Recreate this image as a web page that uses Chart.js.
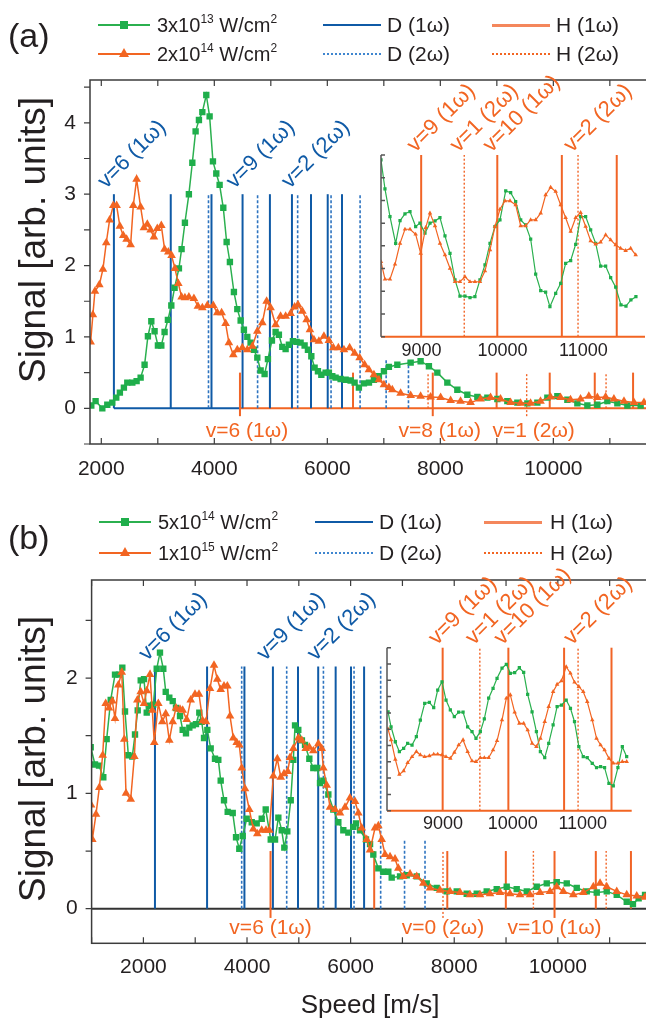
<!DOCTYPE html>
<html>
<head>
<meta charset="utf-8">
<script src="https://cdn.jsdelivr.net/npm/chart.js@4.4.0/dist/chart.umd.min.js"></script>
<style>
  html, body { margin: 0; padding: 0; background: #fff; overflow: hidden; width: 646px; height: 1020px; }
  body { position: relative; font-family: "Liberation Sans", Arial, sans-serif; color: #231f20; }
  canvas { position: absolute; left: 0; top: 0; }
  .t { position: absolute; font-size: 21px; line-height: 21px; white-space: nowrap; }
  .s { font-size: 20px; }
  .t sup { font-size: 12px; vertical-align: 0; position: relative; top: -9px; }
  .big { font-size: 34px; line-height: 34px; }
  .sw { position: absolute; height: 0; }
  .sq { position: absolute; left: 22px; top: -5px; width: 8px; height: 8px; background: #1fae4b; }
  .tri { position: absolute; left: 21px; top: -7px; width: 0; height: 0; border-left: 5px solid transparent; border-right: 5px solid transparent; border-bottom: 9px solid #f26522; }
</style>
</head>
<body>
<canvas id="mainA" width="700" height="1020"></canvas>
<canvas id="insetA" width="700" height="1020"></canvas>
<canvas id="mainB" width="700" height="1020"></canvas>
<canvas id="insetB" width="700" height="1020"></canvas>

<!-- legend (a) -->
<div class="t big" style="left:8px;top:18px">(a)</div>
<div class="sw" style="left:98px;top:24px;width:52px;border-top:2px solid #2bb04f"><i class="sq"></i></div>
<div class="t s" style="left:157px;top:15px">3x10<sup>13</sup> W/cm<sup>2</sup></div>
<div class="sw" style="left:98px;top:53px;width:52px;border-top:2px solid #f26522"><i class="tri"></i></div>
<div class="t s" style="left:157px;top:44px">2x10<sup>14</sup> W/cm<sup>2</sup></div>
<div class="sw" style="left:323px;top:24px;width:58px;border-top:2px solid #0f5aa6"></div>
<div class="t" style="left:387px;top:14px">D (1ω)</div>
<div class="sw" style="left:323px;top:53px;width:58px;border-top:2px dotted #3f86d0"></div>
<div class="t" style="left:387px;top:43px">D (2ω)</div>
<div class="sw" style="left:492px;top:24px;width:58px;border-top:3px solid #f4875c"></div>
<div class="t" style="left:556px;top:14px">H (1ω)</div>
<div class="sw" style="left:492px;top:53px;width:58px;border-top:2px dotted #f26522"></div>
<div class="t" style="left:556px;top:43px">H (2ω)</div>

<!-- legend (b) -->
<div class="t big" style="left:8px;top:520px">(b)</div>
<div class="sw" style="left:99px;top:521px;width:52px;border-top:2px solid #2bb04f"><i class="sq"></i></div>
<div class="t s" style="left:158px;top:512px">5x10<sup>14</sup> W/cm<sup>2</sup></div>
<div class="sw" style="left:99px;top:552px;width:52px;border-top:2px solid #f26522"><i class="tri"></i></div>
<div class="t s" style="left:158px;top:543px">1x10<sup>15</sup> W/cm<sup>2</sup></div>
<div class="sw" style="left:315px;top:521px;width:58px;border-top:2px solid #0f5aa6"></div>
<div class="t" style="left:379px;top:511px">D (1ω)</div>
<div class="sw" style="left:315px;top:552px;width:58px;border-top:2px dotted #3f86d0"></div>
<div class="t" style="left:379px;top:542px">D (2ω)</div>
<div class="sw" style="left:484px;top:521px;width:58px;border-top:3px solid #f4875c"></div>
<div class="t" style="left:550px;top:511px">H (1ω)</div>
<div class="sw" style="left:484px;top:552px;width:58px;border-top:2px dotted #f26522"></div>
<div class="t" style="left:550px;top:542px">H (2ω)</div>

<script>
// ---- panel (a) main data: speed [m/s] and signal [arb. units]
const aGreenSpeed = [1823,1899,2018,2106,2195,2265,2329,2400,2460,2549,2625,2696,2766,2825,2885,2943,3002,3062,3120,3179,3239,3297,3374,3421,3480,3550,3611,3669,3728,3788,3858,3917,3976,4035,4094,4159,4218,4276,4347,4407,4466,4524,4584,4642,4701,4761,4820,4890,4949,5020,5085,5143,5203,5262,5320,5391,5457,5527,5598,5657,5717,5775,5834,5894,5970,6028,6088,6147,6235,6324,6412,6483,6559,6648,6737,6825,6913,7002,7090,7239,7475,7651,7798,7947,8124,8301,8478,8655,8832,9009,9186,9363,9540,9717,9894,10071,10248,10425,10602,10779,10956,11133,11310,11545];
const aGreenSignal = [0.04,0.10,0.00,0.05,0.08,0.15,0.22,0.29,0.36,0.36,0.38,0.43,0.61,1.01,1.22,1.08,0.88,0.88,1.07,1.24,1.44,1.69,1.96,2.23,2.60,3.00,3.44,3.88,4.04,4.15,4.39,4.09,3.46,3.29,3.13,2.81,2.33,2.05,1.63,1.39,1.23,1.10,1.00,0.92,0.82,0.71,0.53,0.48,0.69,0.95,1.07,1.03,0.86,0.83,0.89,0.94,0.93,0.92,0.88,0.82,0.73,0.57,0.52,0.47,0.50,0.50,0.45,0.43,0.41,0.40,0.39,0.36,0.29,0.35,0.36,0.40,0.45,0.52,0.58,0.61,0.64,0.66,0.59,0.50,0.36,0.26,0.19,0.16,0.15,0.13,0.10,0.08,0.07,0.08,0.15,0.17,0.12,0.07,0.04,0.05,0.10,0.07,0.04,0.04];
const aOrangeSpeed = [1811,1851,1887,1965,2029,2088,2147,2212,2271,2329,2389,2448,2519,2566,2625,2696,2754,2814,2873,2931,2991,3062,3120,3186,3244,3303,3363,3421,3480,3550,3639,3710,3788,3876,3982,4053,4129,4200,4258,4336,4407,4496,4584,4673,4761,4850,4926,4996,5085,5173,5262,5350,5421,5480,5558,5634,5692,5763,5851,5940,6028,6106,6195,6294,6395,6483,6572,6660,6736,6825,6913,7002,7090,7150,7297,7475,7651,7828,8005,8182,8358,8535,8712,8889,9066,9243,9420,9597,9773,9950,10127,10304,10481,10628,10779,10925,11072,11250,11427,11604];
const aOrangeSignal = [0.93,1.31,1.64,1.73,1.95,2.32,2.64,2.84,2.84,2.55,2.42,2.37,2.29,2.84,3.21,2.82,2.53,2.58,2.50,2.40,2.52,2.56,2.23,2.19,2.14,1.96,1.75,1.56,1.55,1.56,1.54,1.43,1.41,1.44,1.44,1.34,1.34,1.19,0.92,0.75,0.82,0.85,0.82,0.87,1.08,1.20,1.50,1.41,1.17,1.29,1.29,1.33,1.42,1.45,1.36,1.24,1.10,0.96,0.94,1.01,0.95,0.85,0.85,0.82,0.85,0.77,0.71,0.61,0.54,0.47,0.40,0.33,0.29,0.26,0.21,0.18,0.17,0.16,0.15,0.11,0.10,0.08,0.13,0.15,0.13,0.08,0.07,0.07,0.10,0.16,0.15,0.12,0.13,0.17,0.15,0.16,0.13,0.10,0.08,0.08];

// ---- panel (a) inset data (inset units)
const aInGreenSpeed = [8500,8549,8611,8681,8735,8796,8858,8928,8981,9043,9105,9167,9228,9290,9352,9414,9475,9537,9599,9660,9722,9784,9846,9907,9969,10040,10101,10163,10225,10286,10348,10410,10472,10533,10586,10657,10719,10780,10842,10904,10965,11027,11089,11151,11212,11274,11336,11398,11463,11525,11586,11648];
const aInGreenSignal = [7.78,6.51,5.29,4.11,5.11,5.41,5.51,4.85,5.00,4.56,5.00,5.10,5.24,4.44,3.67,2.50,1.79,1.79,1.72,1.76,2.50,3.16,4.11,4.85,5.14,6.42,6.34,5.95,5.14,4.92,4.30,2.76,2.03,1.96,1.32,1.91,2.35,3.23,3.35,4.07,5.29,5.29,4.70,4.11,3.11,3.11,2.60,2.18,1.40,1.35,1.62,1.76];
const aInOrangeSpeed = [8500,8549,8611,8673,8735,8796,8858,8928,8990,9052,9105,9167,9228,9290,9352,9414,9475,9537,9599,9660,9722,9784,9846,9907,9969,10031,10093,10163,10225,10286,10348,10410,10472,10533,10595,10657,10719,10780,10842,10904,10965,11027,11089,11151,11212,11274,11336,11398,11459,11521,11583,11645];
const aInOrangeSignal = [3.30,2.53,2.53,3.19,4.11,4.73,4.73,4.51,3.67,4.80,5.44,4.88,4.11,3.60,3.01,2.42,2.42,2.64,2.42,2.42,2.42,2.89,3.82,4.85,5.61,5.98,5.98,5.80,4.88,4.88,5.14,5.14,5.44,6.24,6.58,6.39,5.80,5.24,4.63,5.24,5.46,4.85,4.22,4.07,4.16,4.48,4.26,4.04,3.89,3.79,3.89,3.60];

// ---- panel (b) main data
const bGreenSpeed = [983,1066,1143,1226,1291,1369,1452,1529,1593,1645,1709,1786,1838,1890,1948,2012,2064,2127,2191,2257,2320,2384,2431,2500,2566,2629,2707,2758,2822,2886,2952,3015,3079,3125,3170,3234,3299,3382,3446,3492,3556,3627,3724,3788,3851,3917,3994,4091,4187,4284,4361,4458,4541,4605,4670,4720,4778,4844,4894,4927,4990,5060,5120,5203,5280,5357,5409,5473,5570,5666,5763,5859,5956,6052,6104,6181,6297,6375,6438,6535,6631,6728,6793,6954,7083,7276,7469,7662,7855,8048,8241,8434,8627,8820,9013,9206,9400,9593,9786,9979,10172,10365,10558,10751,10944,11137,11330,11450,11560,11683];
const bGreenSignal = [1.40,1.25,1.24,1.14,1.47,1.81,2.03,2.03,2.09,1.71,1.33,1.32,1.51,1.72,1.98,1.99,1.70,1.76,1.77,2.08,2.22,2.08,1.88,1.83,1.80,1.74,1.67,1.55,1.52,1.57,1.59,1.60,1.70,1.62,1.48,1.55,1.39,1.30,1.29,1.11,0.94,0.84,0.83,0.62,0.52,0.63,0.78,0.75,0.74,0.78,0.86,0.60,0.60,0.79,0.68,0.53,0.67,0.94,1.29,1.59,1.55,1.46,1.42,1.30,1.22,1.22,1.09,1.11,0.99,0.86,0.75,0.68,0.66,0.71,0.74,0.68,0.60,0.56,0.47,0.35,0.32,0.32,0.27,0.28,0.29,0.28,0.22,0.18,0.15,0.15,0.13,0.13,0.15,0.17,0.19,0.17,0.15,0.19,0.22,0.23,0.22,0.18,0.15,0.14,0.15,0.12,0.06,0.04,0.09,0.12];
const bOrangeSpeed = [990,1014,1085,1149,1214,1272,1336,1400,1452,1516,1582,1631,1664,1755,1825,1883,1948,2012,2064,2127,2172,2210,2288,2365,2431,2500,2566,2629,2707,2758,2836,2913,2996,3073,3145,3208,3286,3363,3427,3492,3556,3620,3672,3736,3801,3851,3898,3961,4044,4122,4199,4284,4367,4431,4508,4585,4651,4714,4786,4830,4894,4990,5056,5133,5203,5280,5377,5442,5473,5538,5602,5698,5795,5892,5988,6085,6149,6214,6311,6375,6471,6535,6600,6664,6761,6857,6921,7017,7147,7276,7404,7533,7726,7919,8112,8305,8498,8691,8884,9077,9270,9463,9656,9849,9978,10106,10299,10492,10685,10815,10944,11137,11330,11523,11683];
const bOrangeSignal = [0.90,0.60,0.82,1.05,1.33,1.78,1.74,1.80,1.65,1.94,2.05,1.47,1.00,0.95,1.32,1.81,1.88,1.78,1.89,2.03,1.72,1.44,1.78,1.62,1.69,1.46,1.62,1.74,1.73,1.72,1.64,1.81,1.86,1.86,1.63,1.62,1.91,2.11,1.99,1.90,1.93,1.93,1.67,1.48,1.44,1.42,1.22,1.04,0.86,0.69,0.65,0.68,0.68,0.68,1.15,1.30,1.14,1.17,1.19,1.31,1.39,1.48,1.46,1.39,1.40,1.37,1.43,1.39,1.22,1.07,0.88,0.86,0.83,0.88,0.96,0.93,0.83,0.70,0.60,0.51,0.70,0.72,0.60,0.47,0.45,0.43,0.35,0.28,0.30,0.28,0.22,0.18,0.16,0.15,0.14,0.12,0.12,0.13,0.14,0.13,0.12,0.12,0.14,0.15,0.19,0.15,0.12,0.14,0.19,0.22,0.19,0.15,0.12,0.11,0.10];

// ---- panel (b) inset data (inset units)
const bInSpeed = [8215,8258,8319,8377,8438,8495,8558,8620,8677,8739,8806,8868,8925,8987,9044,9106,9163,9225,9288,9353,9416,9473,9535,9592,9654,9717,9774,9845,9907,9964,10026,10093,10155,10212,10275,10337,10394,10456,10513,10576,10633,10695,10763,10824,10882,10944,11007,11064,11136,11197,11255,11312,11374,11437,11503,11566,11628];
const bInGreenSignal = [6.07,5.15,4.23,3.62,3.83,4.13,4.03,4.54,5.56,6.59,6.65,6.32,7.40,7.91,6.79,6.18,5.77,6.04,6.04,5.15,4.85,4.44,4.85,5.63,6.90,7.51,8.12,8.74,8.98,8.43,8.47,8.77,8.49,7.14,6.07,4.85,3.62,3.25,4.13,5.26,6.38,6.48,6.79,6.28,5.46,3.93,3.31,3.25,2.91,2.64,2.70,2.64,1.68,1.52,2.64,3.93,3.31];
const bInOrangeSignal = [5.01,4.34,3.15,2.23,2.44,2.94,3.31,3.62,3.42,3.31,3.36,3.46,3.46,3.42,3.31,3.21,3.58,4.03,4.34,3.62,3.05,3.01,3.25,3.25,3.25,3.72,4.29,5.56,6.90,7.10,6.04,5.36,5.36,4.95,4.13,3.93,4.44,5.46,6.38,7.30,7.75,7.96,8.83,8.43,7.88,7.61,7.30,6.69,5.56,4.44,4.03,3.72,3.21,2.91,2.91,3.01,3.01];

// ---- reference speeds for vibrational levels [m/s]
const dLines1w = [2223, 3229, 3950, 4500, 4984, 5374, 5711, 6007, 6260];
const dLines2w = [3897, 4766, 5475, 6066, 6580, 7041, 7436];
const aD2wTop = [3.0, 3.0, 3.0, 3.0, 3.0, 0.68, 0.68];
const bD2wTop = [2.1, 2.1, 2.1, 2.1, 2.1, 0.6, 0.6];
const hLines1w = [4454, 6455, 7866, 8996, 9936, 10733, 11411];
const hLines2w = [7783, 9528, 10933];

// ---- labels
const aBlueLabels = [['v=6 (1ω)', 2223], ['v=9 (1ω)', 4500], ['v=2 (2ω)', 5475]];
const bBlueLabels = [['v=6 (1ω)', 2223], ['v=9 (1ω)', 4500], ['v=2 (2ω)', 5475]];
const insetLabels = [['v=9 (1ω)', 8996], ['v=1 (2ω)', 9528], ['v=10 (1ω)', 9936], ['v=2 (2ω)', 10933]];
const aLowLabels = [['v=6 (1ω)', 4454], ['v=8 (1ω)', 7866], ['v=1 (2ω)', 9528]];
const bLowLabels = [['v=6 (1ω)', 4454], ['v=0 (2ω)', 7783], ['v=10 (1ω)', 9936]];

const GREEN = '#1fae4b', GREEN_LINE = '#2bb04f', ORANGE = '#f26522';
const BLUE = '#0f5aa6', BLUE_DOT = '#2e74c0', H_COL = '#f16426', AXIS = '#3c3c3c', INK = '#231f20';
const FONT = '"Liberation Sans", Arial, sans-serif';
const W = 700, H = 1020;

Chart.defaults.font.family = FONT;
Chart.defaults.color = INK;

function series(xs, ys, color, lineColor, style, r, bw) {
  return {
    data: xs.map((x, i) => ({ x, y: ys[i] })),
    borderColor: lineColor, backgroundColor: color,
    pointBackgroundColor: color, pointBorderWidth: 0,
    borderWidth: bw, pointStyle: style, pointRadius: r, tension: 0
  };
}

function vline(ctx, x, y, s, from, to, color, width, dash) {
  const px = x.getPixelForValue(s);
  ctx.beginPath();
  ctx.strokeStyle = color; ctx.lineWidth = width; ctx.setLineDash(dash);
  ctx.moveTo(px, y.getPixelForValue(from));
  ctx.lineTo(px, y.getPixelForValue(to));
  ctx.stroke();
}

function rotText(ctx, text, px, py, color, angle, size, align) {
  ctx.save();
  ctx.translate(px, py);
  ctx.rotate(angle);
  ctx.fillStyle = color;
  ctx.font = size + 'px ' + FONT;
  ctx.textAlign = align; ctx.textBaseline = align === 'center' ? 'middle' : 'alphabetic';
  ctx.fillText(text, 0, 0);
  ctx.restore();
}

// tick labels along the x scale, placed through the chart's own scale
function xLabels(ctx, x, ca, step, size, dy) {
  ctx.fillStyle = INK; ctx.font = size + 'px ' + FONT;
  ctx.textAlign = 'center'; ctx.textBaseline = 'middle';
  for (let k = Math.ceil(x.min / step); k * step <= x.max; k++) {
    ctx.fillText(String(k * step), x.getPixelForValue(k * step), ca.bottom + dy);
  }
}

function mainPlugin(p) {
  return {
    id: 'main' + p.name,
    beforeDatasetsDraw(chart) {
      const { ctx, scales: { x, y } } = chart;
      ctx.save();
      const lowSet = p.low.map(l => l[1]);
      p.base.forEach(b => {
        ctx.beginPath(); ctx.setLineDash([]); ctx.lineWidth = 2; ctx.strokeStyle = b[2];
        ctx.moveTo(x.getPixelForValue(b[0]), y.getPixelForValue(0));
        ctx.lineTo(x.getPixelForValue(b[1]), y.getPixelForValue(0));
        ctx.stroke();
      });
      dLines1w.forEach(s => vline(ctx, x, y, s, 0, p.dTop, BLUE, 2, []));
      dLines2w.forEach((s, i) => vline(ctx, x, y, s, 0, p.d2Top[i], BLUE_DOT, 1.6, [3, 2]));
      hLines1w.forEach(s => vline(ctx, x, y, s, lowSet.includes(s) ? p.lowTip : 0, 0.5, H_COL, 2, []));
      hLines2w.forEach(s => vline(ctx, x, y, s, lowSet.includes(s) ? p.lowTip : 0, 0.5, H_COL, 1.4, [2, 2]));
      ctx.restore();
    },
    afterDraw(chart) {
      const { ctx, chartArea: ca, scales: { x, y } } = chart;
      ctx.save();
      ctx.setLineDash([]);
      ctx.strokeStyle = AXIS; ctx.lineWidth = 1.5;
      ctx.strokeRect(ca.left, ca.top, ca.right - ca.left, ca.bottom - ca.top);
      ctx.beginPath(); ctx.lineWidth = 1.2;
      for (let k = Math.ceil(x.min / 1000); k * 1000 <= x.max; k++) {
        const px = x.getPixelForValue(k * 1000);
        ctx.moveTo(px, ca.bottom); ctx.lineTo(px, ca.bottom - 6);
        ctx.moveTo(px, ca.top); ctx.lineTo(px, ca.top + 6);
      }
      for (let k = Math.ceil(y.min * 2); k / 2 <= y.max; k++) {
        const py = y.getPixelForValue(k / 2);
        ctx.moveTo(ca.left, py); ctx.lineTo(ca.left - 6, py);
      }
      ctx.stroke();
      xLabels(ctx, x, ca, 2000, 21, p.labDy);
      rotText(ctx, 'Signal [arb. units]', 35, p.titleY, INK, -Math.PI / 2, 37, 'center');
      p.blue.forEach(l => rotText(ctx, l[0], x.getPixelForValue(l[1]) - 8, y.getPixelForValue(p.dTop) - 5, BLUE, -Math.PI / 4, 22, 'left'));
      ctx.fillStyle = ORANGE; ctx.font = '21px ' + FONT;
      ctx.textAlign = 'center'; ctx.textBaseline = 'middle';
      p.low.forEach(l => ctx.fillText(l[0], x.getPixelForValue(l[1]) + p.lowDx, y.getPixelForValue(0) + p.lowDy));
      ctx.restore();
    }
  };
}

function insetPlugin(name, labDy) {
  return {
    id: 'inset' + name,
    beforeDatasetsDraw(chart) {
      const { ctx, scales: { x, y } } = chart;
      ctx.save();
      hLines1w.filter(s => s > x.min).forEach(s => vline(ctx, x, y, s, y.min, y.max, H_COL, 2, []));
      hLines2w.filter(s => s > x.min).forEach(s => vline(ctx, x, y, s, y.min, y.max, H_COL, 1.4, [2, 2]));
      ctx.restore();
    },
    afterDraw(chart) {
      const { ctx, chartArea: ca, scales: { x, y } } = chart;
      ctx.save();
      ctx.setLineDash([]);
      ctx.beginPath(); ctx.strokeStyle = ORANGE; ctx.lineWidth = 2;
      ctx.moveTo(ca.left, ca.bottom); ctx.lineTo(ca.right, ca.bottom); ctx.stroke();
      ctx.beginPath(); ctx.strokeStyle = '#555'; ctx.lineWidth = 1.5;
      ctx.moveTo(ca.left, ca.bottom); ctx.lineTo(ca.left, ca.top);
      for (let k = Math.ceil(y.min); k <= y.max; k++) {
        const py = y.getPixelForValue(k);
        ctx.moveTo(ca.left, py); ctx.lineTo(ca.left + 4, py);
      }
      ctx.stroke();
      xLabels(ctx, x, ca, 1000, 18, labDy);
      insetLabels.forEach(l => rotText(ctx, l[0], x.getPixelForValue(l[1]) - 6, ca.top - 2, ORANGE, -Math.PI / 4, 22, 'left'));
      ctx.restore();
    }
  };
}

function baseOptions(cfg, xtitle) {
  return {
    responsive: false, animation: false, devicePixelRatio: 1,
    layout: { padding: { top: cfg.top, right: W - cfg.right, left: 0, bottom: 0 } },
    plugins: { legend: { display: false }, tooltip: { enabled: false } },
    scales: {
      x: {
        type: 'linear', min: cfg.xmin, max: cfg.xmax,
        grid: { display: false, drawTicks: false }, border: { display: false },
        ticks: { display: false },
        title: { display: xtitle, text: 'Speed [m/s]', color: INK, font: { size: 26, lineHeight: 1 }, padding: { top: 0, bottom: 1 } },
        afterFit: s => { s.height = H - cfg.bottom; }
      },
      y: {
        min: cfg.ymin, max: cfg.ymax,
        grid: { display: false, drawTicks: false }, border: { display: false },
        ticks: cfg.ylabels
          ? { stepSize: 0.5, autoSkip: false, padding: 14, font: { size: 21 }, color: INK,
              callback: v => (Number.isInteger(v) ? String(v) : '') }
          : { display: false },
        afterFit: s => { s.width = cfg.left; }
      }
    }
  };
}

function makeChart(id, cfg, datasets, plugin, xtitle) {
  return new Chart(document.getElementById(id), {
    type: 'line',
    data: { datasets },
    plugins: [plugin],
    options: baseOptions(cfg, xtitle)
  });
}

// panel (a)
makeChart('mainA',
  { left: 90, top: 80, right: 649.4, bottom: 444, xmin: 1800, xmax: 11700, ymin: -0.5, ymax: 4.6, ylabels: true },
  [ series(aOrangeSpeed, aOrangeSignal, ORANGE, ORANGE, 'triangle', 5, 1.5),
    series(aGreenSpeed, aGreenSignal, GREEN, GREEN_LINE, 'rect', 4.5, 1.5) ],
  mainPlugin({ name: 'a', dTop: 3.0, d2Top: aD2wTop, blue: aBlueLabels, low: aLowLabels, lowTip: -0.11,
               lowDx: 7, lowDy: 23, labDy: 25, titleY: 240, base: [[2223, 4454, BLUE], [4454, 11700, ORANGE]] }),
  false);

makeChart('insetA',
  { left: 381, top: 155, right: 645, bottom: 336.7, xmin: 8500, xmax: 11760, ymin: 0, ymax: 8, ylabels: false },
  [ series(aInOrangeSpeed, aInOrangeSignal, ORANGE, ORANGE, 'triangle', 2.6, 1.2),
    series(aInGreenSpeed, aInGreenSignal, GREEN, GREEN_LINE, 'rect', 2.3, 1.2) ],
  insetPlugin('a', 14), false);

// panel (b)
makeChart('mainB',
  { left: 91.6, top: 580, right: 648.5, bottom: 943.3, xmin: 1000, xmax: 11750, ymin: -0.3, ymax: 2.85, ylabels: true },
  [ series(bOrangeSpeed, bOrangeSignal, ORANGE, ORANGE, 'triangle', 5, 1.5),
    series(bGreenSpeed, bGreenSignal, GREEN, GREEN_LINE, 'rect', 4.5, 1.5) ],
  mainPlugin({ name: 'b', dTop: 2.1, d2Top: bD2wTop, blue: bBlueLabels, low: bLowLabels, lowTip: -0.08,
               lowDx: 0, lowDy: 20, labDy: 24, titleY: 759, base: [[1000, 11750, '#333']] }),
  true);

makeChart('insetB',
  { left: 387, top: 647.7, right: 631.7, bottom: 810.7, xmin: 8200, xmax: 11700, ymin: 0, ymax: 10, ylabels: false },
  [ series(bInSpeed, bInOrangeSignal, ORANGE, ORANGE, 'triangle', 2.6, 1.2),
    series(bInSpeed, bInGreenSignal, GREEN, GREEN_LINE, 'rect', 2.3, 1.2) ],
  insetPlugin('b', 13), false);
</script>
</body>
</html>
